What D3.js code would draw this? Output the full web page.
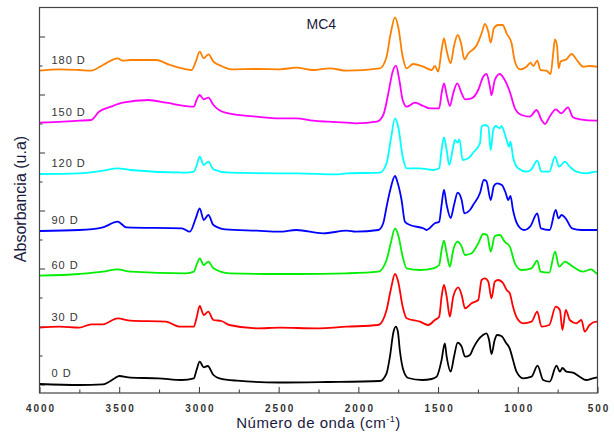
<!DOCTYPE html>
<html>
<head>
<meta charset="utf-8">
<script src="https://cdn.jsdelivr.net/npm/d3@7/dist/d3.min.js"></script>
<style>
  html, body { margin: 0; padding: 0; background: #fff; }
  svg { display: block; font-family: "Liberation Sans", Arial, sans-serif; }
</style>
</head>
<body>
<script>
// FTIR spectra, MC4 sample, offset per ageing time (arbitrary units)
// each entry: [wavenumber cm-1, absorbance u.a.]
const abs0 = [[4000,9],[3751,8],[3602,8.7],[3528,14.7],[3500,17],[3429,15.3],[3256,14.7],[3107,13],[3032,14.7],[3015,23],[2995,31.3],[2970,25.7],[2945,27],[2909,18],[2871,14.7],[2760,12.3],[2500,10.5],[2200,11],[1865,12],[1823,19.7],[1802,36.3],[1781,60],[1765,66.3],[1752,61.3],[1740,43],[1718,23],[1687,15],[1600,13],[1540,14],[1509,16.3],[1478,33],[1458,49.7],[1446,36.3],[1421,21.3],[1400,36.3],[1377,50.3],[1352,46.3],[1331,36.3],[1300,38],[1280,44.7],[1249,53],[1218,58],[1197,59.7],[1180,53],[1165,39],[1145,53],[1130,58],[1103,57],[1072,49.7],[1051,44.7],[1030,33],[1008,21.3],[967,14.7],[914,16.3],[876,27.3],[841,13],[800,11.3],[757,27.3],[736,21.3],[720,25],[695,21.3],[654,20.3],[612,16.3],[571,13],[529,14.7],[500,15.7]];

const abs30 = [[4000,65.3],[3875,66.3],[3751,65.3],[3676,68.7],[3602,68.7],[3510,74.7],[3429,72.3],[3206,71.3],[3119,66.3],[3032,66.3],[3015,75],[2995,87],[2970,78],[2941,81.3],[2909,73],[2859,72],[2809,68],[2636,64.7],[2493,65.3],[2265,64.7],[2073,66.3],[1875,68],[1823,83],[1797,103],[1770,119],[1750,111.3],[1722,86.3],[1697,74.7],[1614,71.3],[1562,68],[1520,73],[1493,76.3],[1478,96.3],[1463,108],[1446,96.3],[1426,76.3],[1405,96.3],[1373,105.7],[1352,98],[1331,84.7],[1290,89.7],[1248,93],[1227,113],[1206,114.7],[1185,111.3],[1165,94.7],[1144,111.3],[1123,113],[1092,109.7],[1070,103],[1050,99.7],[1030,86.3],[1004,74.7],[967,69.7],[914,71.3],[878,81.3],[851,66.3],[803,68],[762,86.3],[736,83],[720,63],[699,83],[674,73],[633,69.7],[601,73],[580,61.3],[550,68],[508,71.3],[500,71]];

const abs60 = [[4000,117.3],[3751,119],[3602,121.3],[3510,123.7],[3429,121.3],[3082,119.7],[3032,121.3],[3015,128],[2995,134.7],[2970,128],[2941,131.3],[2909,124.7],[2809,119.7],[2493,119],[2389,119],[2073,119.7],[1875,121.3],[1823,133],[1797,149.7],[1770,164.7],[1750,158],[1722,136.3],[1697,124.7],[1614,123],[1530,124.7],[1493,128],[1478,143],[1463,152.3],[1446,139.7],[1426,126.3],[1405,143],[1377,151.3],[1352,146.3],[1331,138],[1290,139.7],[1248,149.7],[1217,159],[1192,158],[1170,141.3],[1144,157],[1113,158],[1082,151.3],[1050,146.3],[1018,129.7],[976,123],[914,124.7],[878,132.3],[857,121.3],[803,120.3],[766,141.3],[741,126.3],[705,131.3],[654,126.3],[592,121.3],[540,123.7],[508,119.7],[500,119]];

const abs90 = [[4000,162],[3751,163],[3602,165.7],[3510,171.3],[3455,165.7],[3107,164.7],[3057,161.3],[3020,174.7],[2995,184.7],[2970,173],[2941,178],[2909,168],[2835,163.7],[2636,162.3],[2493,161.3],[2389,163],[2220,159.7],[2073,162.3],[2017,161.3],[1875,163],[1844,169.7],[1823,186.3],[1800,203],[1770,217],[1755,211],[1729,193],[1708,171.3],[1676,168],[1593,164.7],[1572,163],[1520,169.7],[1493,171.3],[1478,188],[1463,203],[1446,188],[1421,175],[1400,188],[1377,200.3],[1352,193],[1335,179.7],[1300,183],[1280,188],[1237,200],[1213,213],[1197,212],[1170,193],[1150,207],[1130,209.7],[1100,208],[1075,199.7],[1060,193],[1046,197],[1030,183],[1000,168],[960,163],[920,167],[878,179.7],[855,164.7],[800,163],[762,183],[745,174.7],[725,178],[700,174.7],[660,164.7],[600,163],[508,163],[500,163]];

const abs120 = [[4000,219],[3751,219.7],[3602,222.3],[3510,224.7],[3429,223],[3082,220.3],[3032,221.3],[3015,227],[2995,236.3],[2970,228],[2941,231.3],[2909,223.7],[2809,220.3],[2493,219.7],[2389,219.7],[2140,218.7],[2073,219.7],[1865,220.3],[1823,229.7],[1797,253],[1770,274.7],[1750,266.3],[1722,236.3],[1697,224.7],[1614,224.7],[1530,223],[1493,224.7],[1478,243],[1463,255.7],[1446,243],[1430,228],[1405,246.3],[1394,253],[1377,250.3],[1366,253.7],[1346,233],[1310,234.7],[1280,240.3],[1237,249.7],[1227,266.3],[1206,268],[1185,266.3],[1170,243],[1154,263],[1138,267],[1113,264.7],[1103,267],[1070,253],[1055,246.3],[1046,251.3],[1030,236.3],[998,224.7],[945,221.3],[914,223.7],[878,232.3],[851,221.3],[803,221.3],[766,236.3],[741,226.3],[705,231.3],[674,226.3],[633,221.3],[571,219.7],[508,221.3],[500,221]];

const abs150 = [[4000,270.3],[3850,271.3],[3751,272.3],[3676,273],[3627,281.3],[3553,286.3],[3478,290.3],[3317,293],[3206,290.3],[3032,286.3],[3015,293],[2995,298],[2970,293.7],[2941,295.3],[2909,288],[2835,280.3],[2636,276.3],[2493,274.7],[2389,274.7],[2283,272.3],[2190,271.3],[2073,270.3],[2017,269.7],[1885,271.3],[1844,278],[1812,299.7],[1785,321.3],[1764,327.3],[1743,313],[1722,293],[1697,286.3],[1645,290.3],[1593,287],[1551,284.7],[1493,284.7],[1478,299.7],[1463,309.7],[1446,298],[1426,287],[1405,299.7],[1380,309.7],[1352,299.7],[1331,293.7],[1290,294.7],[1248,303],[1217,316.3],[1196,319],[1175,306.3],[1165,298],[1144,313],[1113,319],[1088,314.7],[1050,301.3],[1018,284.7],[976,278],[924,276.3],[882,283],[851,273],[830,269],[800,276.3],[762,283.7],[727,279.7],[685,285.7],[654,275.7],[612,273.7],[508,272.3],[500,272.5]];

const abs180 = [[4000,322.3],[3875,323.7],[3751,323],[3676,322.3],[3602,328],[3510,334.7],[3478,332.3],[3429,333],[3268,333],[3181,328],[3082,323.7],[3045,323],[3020,331.3],[2995,341.3],[2970,334.7],[2940,338.7],[2909,331.3],[2859,327],[2797,323.7],[2636,324],[2493,323.7],[2389,325.3],[2283,323],[2178,324.7],[2073,322.3],[1865,324.7],[1823,336.3],[1797,359.7],[1770,375.7],[1750,366.3],[1722,336.3],[1697,324.7],[1656,329],[1593,326.3],[1540,323],[1520,327],[1499,321.3],[1478,343],[1463,354.7],[1447,343],[1421,329.7],[1401,346.3],[1377,358],[1356,349.7],[1335,333.7],[1310,339.7],[1257,348],[1227,359.7],[1206,369],[1185,361.3],[1170,350.3],[1150,364.7],[1123,368],[1095,368],[1070,359.7],[1039,349.7],[1018,331.3],[986,323.7],[945,326.3],[920,330.3],[903,327],[878,332.3],[857,323],[820,322.3],[794,319],[778,339.7],[767,353.7],[753,346.3],[744,324.7],[732,331.3],[694,333.7],[663,339],[622,331.3],[590,326.3],[548,327],[506,326.3],[500,326]];

const seriesNames = ['0 D', '30 D', '60 D', '90 D', '120 D', '150 D', '180 D'];
const seriesData = [abs0, abs30, abs60, abs90, abs120, abs150, abs180];
const seriesColors = ['#000000', '#ff0000', '#00ee00', '#0000ff', '#00ffff', '#ff00ff', '#ff8000'];

const xTicksMajor = [4000, 3500, 3000, 2500, 2000, 1500, 1000, 500];
const xTicksMinor = [3750, 3250, 2750, 2250, 1750, 1250, 750];
const yTicksMajor = [8.5, 66.5, 124.5, 182.5, 240.5, 298.5, 356.5];
const yTicksMinor = [37.5, 95.5, 153.5, 211.5, 269.5, 327.5];

document.addEventListener('DOMContentLoaded', function() {
    const W = 614, H = 441;
    const margin = {top: 7.5, right: 16.5, bottom: 48, left: 39.5},
          width = W - margin.left - margin.right,
          height = H - margin.top - margin.bottom;

    const svg = d3.select('body')
        .append('svg')
        .attr('width', W)
        .attr('height', H);

    const g = svg.append('g')
        .attr('transform', `translate(${margin.left},${margin.top})`);

    // reversed wavenumber axis, as usual for IR
    const x = d3.scaleLinear().domain([4000, 500]).range([0, width]);
    const y = d3.scaleLinear().domain([0, 385.5]).range([height, 0]);

    // ticks point inward
    const xMajor = g.append('g')
        .attr('transform', `translate(0,${height})`)
        .call(d3.axisBottom(x).tickValues(xTicksMajor).tickFormat(d3.format('d'))
            .tickSize(-6).tickPadding(11.6));
    g.append('g')
        .attr('transform', `translate(0,${height})`)
        .call(d3.axisBottom(x).tickValues(xTicksMinor).tickSize(-3.5).tickFormat(''));
    g.append('g')
        .call(d3.axisLeft(y).tickValues(yTicksMajor).tickSize(-5.5).tickFormat(''));
    g.append('g')
        .call(d3.axisLeft(y).tickValues(yTicksMinor).tickSize(-3).tickFormat(''));

    g.selectAll('.domain').remove();
    g.selectAll('.tick line').attr('stroke', '#333');
    xMajor.selectAll('text')
        .attr('font-size', 10)
        .attr('font-family', '"Liberation Sans", Arial, sans-serif')
        .attr('fill', '#333')
        .attr('letter-spacing', '2px')
        .attr('dx', '1px')
        .style('font-weight', 'bold');

    // spectra
    const line = d3.line()
        .x(d => x(d[0]))
        .y(d => y(d[1]))
        .curve(d3.curveMonotoneX);

    seriesData.forEach((data, i) => {
        g.append('path')
            .datum(data)
            .attr('fill', 'none')
            .attr('stroke', seriesColors[i])
            .attr('stroke-width', 1.8)
            .attr('stroke-linejoin', 'round')
            .attr('d', line);

        g.append('text')
            .attr('x', x(3925))
            .attr('y', y(data[0][1]) - 7)
            .attr('font-size', 11)
            .attr('letter-spacing', '1px')
            .attr('fill', '#333')
            .text(seriesNames[i]);
    });

    // frame
    g.append('rect')
        .attr('width', width)
        .attr('height', height)
        .attr('fill', 'none')
        .attr('stroke', '#444')
        .attr('stroke-width', 1.2);

    // titles
    g.append('text')
        .attr('x', x(2325))
        .attr('y', 21.5)
        .attr('font-size', 14)
        .attr('fill', '#1a1a40')
        .text('MC4');

    const xt = svg.append('text')
        .attr('x', margin.left + width / 2)
        .attr('y', 428.3)
        .attr('text-anchor', 'middle')
        .attr('font-size', 15)
        .attr('letter-spacing', '0.5px')
        .attr('fill', '#1a1a40');
    xt.append('tspan').text('Número de onda (cm');
    xt.append('tspan').attr('font-size', 9).attr('dy', -6).text('-1');
    xt.append('tspan').attr('dy', 6).text(')');

    svg.append('text')
        .attr('transform', 'translate(26,199) rotate(-90)')
        .attr('text-anchor', 'middle')
        .attr('font-size', 16)
        .attr('fill', '#1a1a40')
        .text('Absorbancia (u.a)');
});
</script>
</body>
</html>
